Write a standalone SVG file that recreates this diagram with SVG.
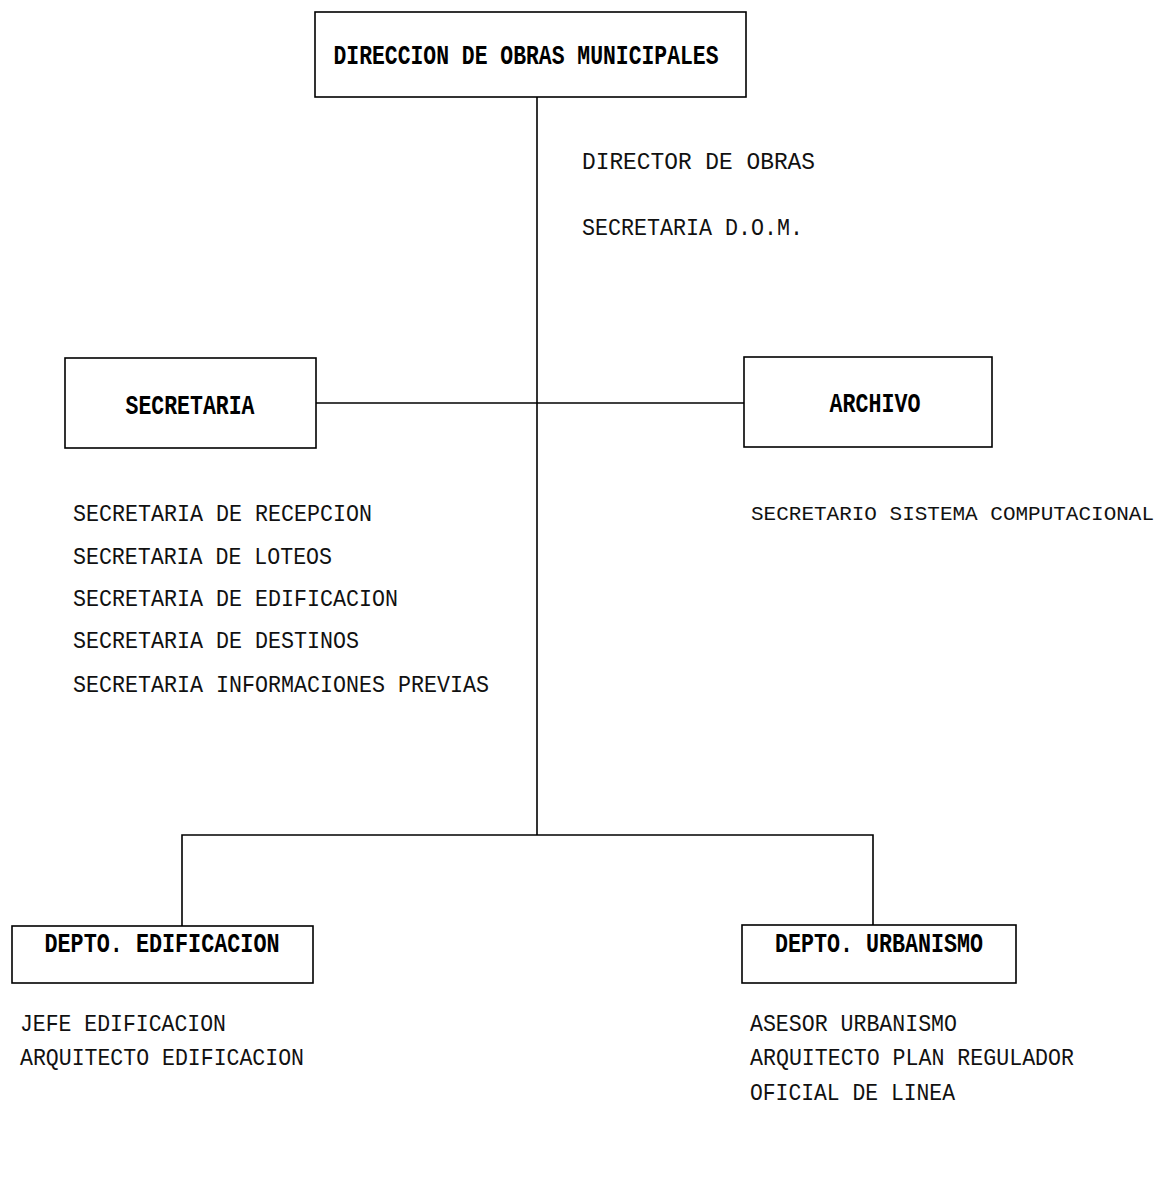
<svg xmlns="http://www.w3.org/2000/svg" width="1164" height="1180" viewBox="0 0 1164 1180">
<style>
.box{fill:#fff;stroke:#000;stroke-width:1.6}
.ln{fill:none;stroke:#000;stroke-width:1.6}
.t{font-family:"Liberation Mono","DejaVu Sans Mono",monospace;font-size:23px;fill:#111}
.b{font-family:"Liberation Mono","DejaVu Sans Mono",monospace;font-size:28px;font-weight:bold;fill:#000;text-anchor:middle}
</style>
<rect width="1164" height="1180" fill="#fff"/>
<g id="connectors">
<path class="ln" d="M537,97 V835"/>
<path class="ln" d="M316,403 H744"/>
<path class="ln" d="M182,926 V835 H873 V925"/>
</g>
<g id="n-direccion">
<rect class="box" x="315" y="12" width="431" height="85"/>
<text class="b" x="526" y="64" textLength="385" lengthAdjust="spacingAndGlyphs">DIRECCION DE OBRAS MUNICIPALES</text>
</g>
<g id="n-direccion-staff">
<text class="t" x="582" y="169" textLength="233" lengthAdjust="spacingAndGlyphs">DIRECTOR DE  OBRAS</text>
<text class="t" x="582" y="235" textLength="221" lengthAdjust="spacingAndGlyphs">SECRETARIA D.O.M.</text>
</g>
<g id="n-secretaria">
<rect class="box" x="65" y="358" width="251" height="90"/>
<text class="b" x="190" y="414" textLength="129" lengthAdjust="spacingAndGlyphs">SECRETARIA</text>
</g>
<g id="n-secretaria-staff">
<text class="t" x="73" y="521" textLength="299" lengthAdjust="spacingAndGlyphs">SECRETARIA DE RECEPCION</text>
<text class="t" x="73" y="564" textLength="259" lengthAdjust="spacingAndGlyphs">SECRETARIA DE LOTEOS</text>
<text class="t" x="73" y="606" textLength="325" lengthAdjust="spacingAndGlyphs">SECRETARIA DE EDIFICACION</text>
<text class="t" x="73" y="648" textLength="286" lengthAdjust="spacingAndGlyphs">SECRETARIA DE DESTINOS</text>
<text class="t" x="73" y="692" textLength="416" lengthAdjust="spacingAndGlyphs">SECRETARIA INFORMACIONES PREVIAS</text>
</g>
<g id="n-archivo">
<rect class="box" x="744" y="357" width="248" height="90"/>
<text class="b" x="875" y="412" textLength="91" lengthAdjust="spacingAndGlyphs">ARCHIVO</text>
</g>
<g id="n-archivo-staff">
<text class="t" x="751" y="520" style="font-size:21px" textLength="403" lengthAdjust="spacingAndGlyphs">SECRETARIO SISTEMA COMPUTACIONAL</text>
</g>
<g id="n-edificacion">
<rect class="box" x="12" y="926" width="301" height="57"/>
<text class="b" x="162" y="952" textLength="235" lengthAdjust="spacingAndGlyphs">DEPTO. EDIFICACION</text>
</g>
<g id="n-edificacion-staff">
<text class="t" x="20" y="1031" textLength="206" lengthAdjust="spacingAndGlyphs">JEFE EDIFICACION</text>
<text class="t" x="20" y="1065" textLength="284" lengthAdjust="spacingAndGlyphs">ARQUITECTO EDIFICACION</text>
</g>
<g id="n-urbanismo">
<rect class="box" x="742" y="925" width="274" height="58"/>
<text class="b" x="879" y="952" textLength="208" lengthAdjust="spacingAndGlyphs">DEPTO. URBANISMO</text>
</g>
<g id="n-urbanismo-staff">
<text class="t" x="750" y="1031" textLength="207" lengthAdjust="spacingAndGlyphs">ASESOR URBANISMO</text>
<text class="t" x="750" y="1065" textLength="324" lengthAdjust="spacingAndGlyphs">ARQUITECTO PLAN REGULADOR</text>
<text class="t" x="750" y="1100" textLength="205" lengthAdjust="spacingAndGlyphs">OFICIAL DE LINEA</text>
</g>
</svg>
